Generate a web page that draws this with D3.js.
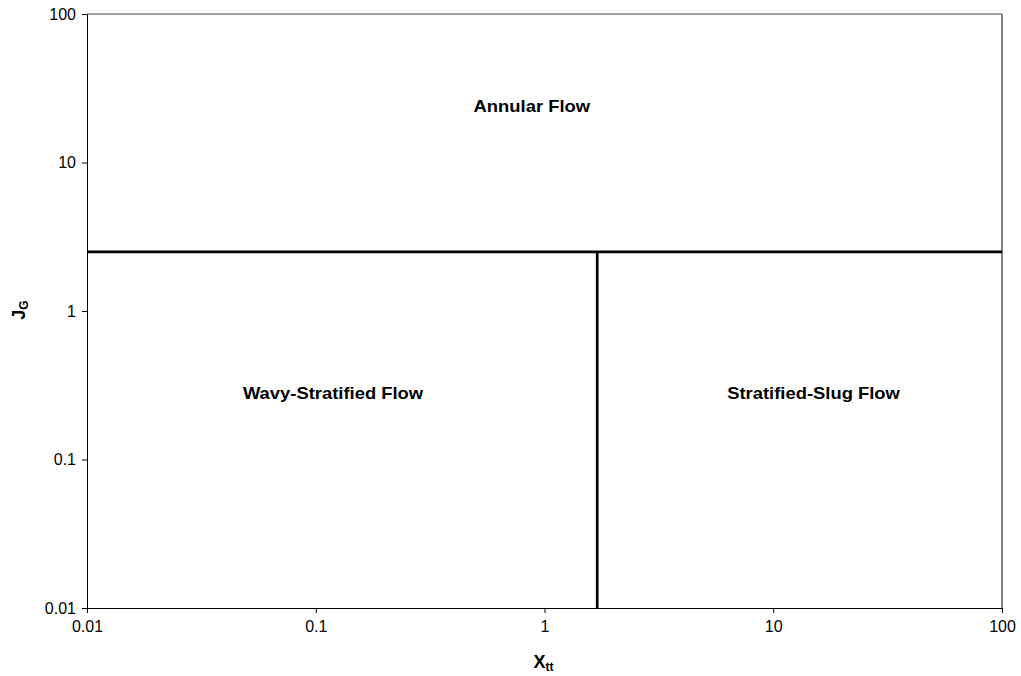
<!DOCTYPE html>
<html>
<head>
<meta charset="utf-8">
<script src="https://cdn.jsdelivr.net/npm/d3@7"></script>
<style>
  body { margin: 0; background: #fff; }
  text { font-family: Arial, "Liberation Sans", sans-serif; }
</style>
</head>
<body>
<script>
// flow regime map data
var xTickValues = [0.01, 0.1, 1, 10, 100];
var yTickValues = [0.01, 0.1, 1, 10, 100];
var xDomain = [0.01, 100];
var yDomain = [0.01, 100];

// boundaries: horizontal J_G line, vertical X_tt line (below J_G line)
var hLineX = [0.01, 100];
var hLineY = [2.5, 2.5];
var vLineX = [1.7, 1.7];
var vLineY = [0.01, 2.5];

var regionNames = ["Annular Flow", "Wavy-Stratified Flow", "Stratified-Slug Flow"];
var regionX = [0.88, 0.119, 15];
var regionY = [24, 0.28, 0.28];

var margin = { top: 14, right: 19, bottom: 68, left: 87 },
  W = 1021, H = 676,
  w = W - margin.left - margin.right,
  h = H - margin.top - margin.bottom;

var svg = d3.select("body").append("svg")
  .attr("width", W)
  .attr("height", H);

var g = svg.append("g")
  .attr("transform", "translate(" + margin.left + "," + margin.top + ")");

var xScale = d3.scaleLog().domain(xDomain).range([0, w]);
var yScale = d3.scaleLog().domain(yDomain).range([h, 0]);

// minor ticks 2..9 in each decade
function minorTicks(dom) {
  var out = [];
  for (var e = Math.log10(dom[0]); e < Math.log10(dom[1]); e++) {
    for (var k = 2; k < 10; k++) out.push(k * Math.pow(10, e));
  }
  return out;
}

// top and right frame (grey)
g.append("line").attr("x1", 0).attr("x2", w).attr("y1", 0).attr("y2", 0)
  .attr("stroke", "#808080").attr("stroke-width", 1.5);
g.append("line").attr("x1", w).attr("x2", w).attr("y1", 0).attr("y2", h)
  .attr("stroke", "#808080").attr("stroke-width", 2);

var fmt = function (d) { return String(+d.toPrecision(3)); };

var xAxis = d3.axisBottom(xScale).tickValues(xTickValues).tickFormat(fmt).tickSize(5).tickSizeOuter(0);
var yAxis = d3.axisLeft(yScale).tickValues(yTickValues).tickFormat(fmt).tickSize(5).tickSizeOuter(0);

var gx = g.append("g")
  .attr("transform", "translate(0," + h + ")")
  .call(d3.axisBottom(xScale).tickValues(minorTicks(xDomain)).tickFormat("").tickSize(4).tickSizeOuter(0));
gx.call(xAxis);
var gy = g.append("g")
  .call(d3.axisLeft(yScale).tickValues(minorTicks(yDomain)).tickFormat("").tickSize(4).tickSizeOuter(0));
gy.call(yAxis);

g.selectAll(".domain").attr("stroke", "#000");
g.selectAll(".tick line").attr("stroke", "#000");
gx.selectAll("text").attr("font-size", 16).attr("fill", "#000").attr("y", 13)
  .attr("font-family", "Arial, 'Liberation Sans', sans-serif");
gy.selectAll("text").attr("font-size", 16).attr("fill", "#000").attr("x", -11)
  .attr("font-family", "Arial, 'Liberation Sans', sans-serif");

// boundary lines
var line = d3.line().x(function (d) { return xScale(d[0]); }).y(function (d) { return yScale(d[1]); });
g.append("path").datum(d3.zip(hLineX, hLineY)).attr("d", line)
  .attr("fill", "none").attr("stroke", "#000").attr("stroke-width", 2.7);
g.append("path").datum(d3.zip(vLineX, vLineY)).attr("d", line)
  .attr("fill", "none").attr("stroke", "#000").attr("stroke-width", 2.7);

// region labels
g.selectAll(".region").data(regionNames).enter().append("text")
  .attr("class", "region")
  .attr("transform", function (d, i) {
    return "translate(" + xScale(regionX[i]) + "," + yScale(regionY[i]) + ") scale(1.15,1)";
  })
  .attr("text-anchor", "middle")
  .attr("dy", "0.35em")
  .attr("font-size", 16)
  .attr("font-weight", "bold")
  .text(function (d) { return d; });

// axis titles
var xt = svg.append("text")
  .attr("x", margin.left + xScale(1) - 1)
  .attr("y", 668)
  .attr("text-anchor", "middle")
  .attr("font-size", 18)
  .attr("font-weight", "bold");
xt.append("tspan").text("X");
xt.append("tspan").attr("font-size", 12).attr("dy", 3).text("tt");

var yt = svg.append("text")
  .attr("transform", "translate(25," + (margin.top + yScale(1) - 1) + ") rotate(-90)")
  .attr("text-anchor", "middle")
  .attr("font-size", 18)
  .attr("font-weight", "bold");
yt.append("tspan").text("J");
yt.append("tspan").attr("font-size", 12).attr("dy", 3).text("G");
</script>
</body>
</html>
